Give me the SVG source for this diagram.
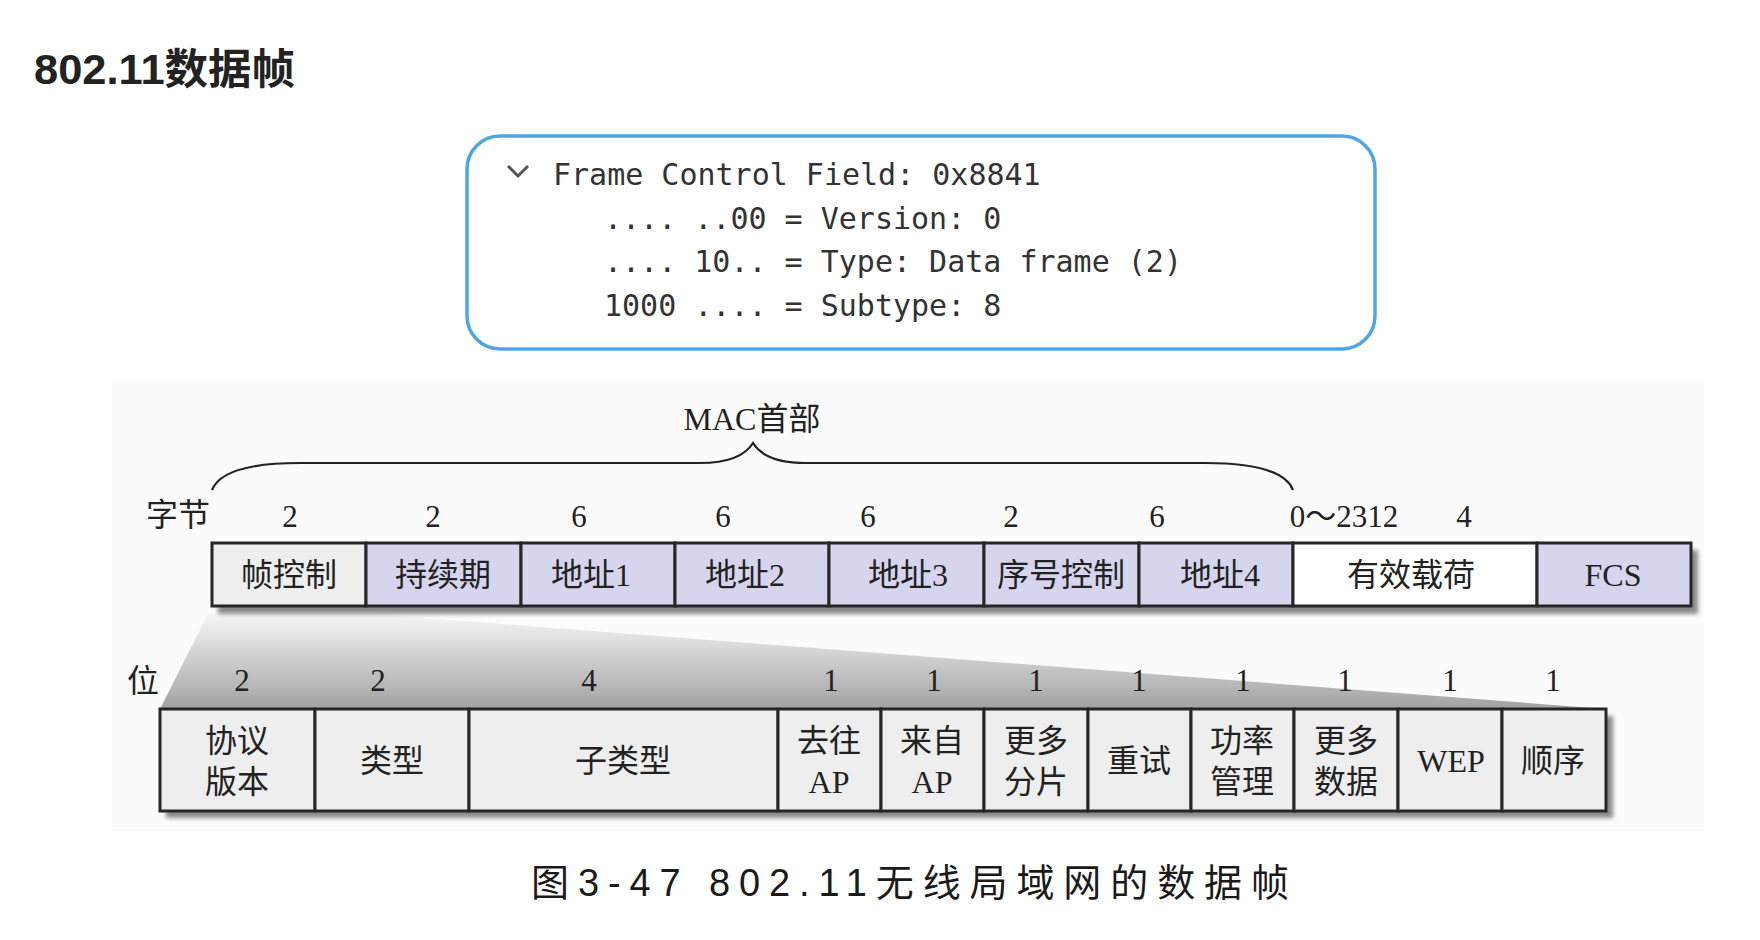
<svg xmlns="http://www.w3.org/2000/svg" width="1760" height="940" viewBox="0 0 1760 940">
  <defs>
    <style>
      .title{font-family:'Liberation Sans','Noto Sans CJK SC',sans-serif;font-weight:bold;font-size:42px;fill:#222;}
      .mono{font-family:'DejaVu Sans Mono','Liberation Mono',monospace;font-size:30px;fill:#333;}
      .lbl{font-family:'Liberation Serif','Noto Sans CJK SC',serif;font-size:32px;fill:#222;}
      .num{font-family:'Liberation Serif','Noto Sans CJK SC',serif;font-size:31px;fill:#222;}
      .cap{font-family:'Liberation Sans','Noto Sans CJK SC',sans-serif;font-size:38px;fill:#1a1a1a;}
      .box{stroke:#262626;stroke-width:3;}
      .lav{fill:#d7d5ed;}
      .gry{fill:#eeeeee;}
      .wht{fill:#ffffff;}
      .shadow{fill:#8a8a8a;filter:url(#blur);}
    </style>
    <filter id="blur" x="-5%" y="-20%" width="110%" height="140%">
      <feGaussianBlur stdDeviation="2"/>
    </filter>
    <linearGradient id="wedgeGrad" gradientUnits="userSpaceOnUse" x1="0" y1="614" x2="0" y2="709">
      <stop offset="0" stop-color="#f6f6f6"/>
      <stop offset="1" stop-color="#a2a2a2"/>
    </linearGradient>
  </defs>

  <rect width="1760" height="940" fill="#ffffff"/>

  <g id="title">
    <text class="title" x="34" y="84" textLength="261" lengthAdjust="spacingAndGlyphs">802.11数据帧</text>
  </g>

  <g id="fcf-box">
    <rect x="467" y="136" width="908" height="213" rx="33" ry="33" fill="#ffffff" stroke="#4fa6e3" stroke-width="3.5"/>
    <polyline points="508,166 518,176 528,166" fill="none" stroke="#555" stroke-width="3"/>
    <text class="mono" x="553" y="185">Frame Control Field: 0x8841</text>
    <text class="mono" x="604" y="229">.... ..00 = Version: 0</text>
    <text class="mono" x="604" y="272">.... 10.. = Type: Data frame (2)</text>
    <text class="mono" x="604" y="316">1000 .... = Subtype: 8</text>
  </g>

  <rect id="figure-bg" x="112" y="381" width="1592" height="450" fill="#fbfbfb"/>

  <g id="connectors">
    <path id="mac-brace" d="M212,490 C220,470 255,463 300,463 L700,463 C728,463 745,456 753,443 C761,456 778,463 806,463 L1205,463 C1250,463 1285,470 1293,490" fill="none" stroke="#222" stroke-width="2.2"/>
    <polygon id="expand-wedge" points="208,614 372,614 1606,709 160,709" fill="url(#wedgeGrad)"/>
  </g>

  <g id="mac-label">
    <text class="lbl" x="752" y="419" text-anchor="middle" dominant-baseline="central">MAC首部</text>
  </g>

  <g id="byte-numbers">
    <text class="lbl" x="178" y="515" text-anchor="middle" dominant-baseline="central">字节</text>
    <text class="num" x="290" y="516" text-anchor="middle" dominant-baseline="central">2</text>
    <text class="num" x="433" y="516" text-anchor="middle" dominant-baseline="central">2</text>
    <text class="num" x="579" y="516" text-anchor="middle" dominant-baseline="central">6</text>
    <text class="num" x="723" y="516" text-anchor="middle" dominant-baseline="central">6</text>
    <text class="num" x="868" y="516" text-anchor="middle" dominant-baseline="central">6</text>
    <text class="num" x="1011" y="516" text-anchor="middle" dominant-baseline="central">2</text>
    <text class="num" x="1157" y="516" text-anchor="middle" dominant-baseline="central">6</text>
    <text class="num" x="1344" y="516" text-anchor="middle" dominant-baseline="central">0～2312</text>
    <text class="num" x="1464" y="516" text-anchor="middle" dominant-baseline="central">4</text>
  </g>

  <rect class="shadow" x="218" y="550" width="1480" height="64"/>
  <g id="frame-fields">
    <g id="f-framectl"><rect class="box gry" x="212" y="543" width="154" height="63"/><text class="lbl" x="289" y="575" text-anchor="middle" dominant-baseline="central">帧控制</text></g>
    <g id="f-duration"><rect class="box lav" x="366" y="543" width="155" height="63"/><text class="lbl" x="443" y="575" text-anchor="middle" dominant-baseline="central">持续期</text></g>
    <g id="f-addr1"><rect class="box lav" x="521" y="543" width="154" height="63"/><text class="lbl" x="591" y="575" text-anchor="middle" dominant-baseline="central">地址1</text></g>
    <g id="f-addr2"><rect class="box lav" x="675" y="543" width="154" height="63"/><text class="lbl" x="745" y="575" text-anchor="middle" dominant-baseline="central">地址2</text></g>
    <g id="f-addr3"><rect class="box lav" x="829" y="543" width="155" height="63"/><text class="lbl" x="908" y="575" text-anchor="middle" dominant-baseline="central">地址3</text></g>
    <g id="f-seqctl"><rect class="box lav" x="984" y="543" width="155" height="63"/><text class="lbl" x="1061" y="575" text-anchor="middle" dominant-baseline="central">序号控制</text></g>
    <g id="f-addr4"><rect class="box lav" x="1139" y="543" width="154" height="63"/><text class="lbl" x="1220" y="575" text-anchor="middle" dominant-baseline="central">地址4</text></g>
    <g id="f-payload"><rect class="box wht" x="1293" y="543" width="244" height="63"/><text class="lbl" x="1411" y="575" text-anchor="middle" dominant-baseline="central">有效载荷</text></g>
    <g id="f-fcs"><rect class="box lav" x="1537" y="543" width="154" height="63"/><text class="lbl" x="1613" y="575" text-anchor="middle" dominant-baseline="central">FCS</text></g>
  </g>

  <g id="bit-numbers">
    <text class="lbl" x="143" y="681" text-anchor="middle" dominant-baseline="central">位</text>
    <text class="num" x="242" y="680" text-anchor="middle" dominant-baseline="central">2</text>
    <text class="num" x="378" y="680" text-anchor="middle" dominant-baseline="central">2</text>
    <text class="num" x="589" y="680" text-anchor="middle" dominant-baseline="central">4</text>
    <text class="num" x="831" y="680" text-anchor="middle" dominant-baseline="central">1</text>
    <text class="num" x="934" y="680" text-anchor="middle" dominant-baseline="central">1</text>
    <text class="num" x="1036" y="680" text-anchor="middle" dominant-baseline="central">1</text>
    <text class="num" x="1139" y="680" text-anchor="middle" dominant-baseline="central">1</text>
    <text class="num" x="1243" y="680" text-anchor="middle" dominant-baseline="central">1</text>
    <text class="num" x="1345" y="680" text-anchor="middle" dominant-baseline="central">1</text>
    <text class="num" x="1450" y="680" text-anchor="middle" dominant-baseline="central">1</text>
    <text class="num" x="1553" y="680" text-anchor="middle" dominant-baseline="central">1</text>
  </g>

  <rect class="shadow" x="166" y="716" width="1447" height="102"/>
  <g id="control-bits">
    <g id="b-version"><rect class="box gry" x="160" y="709" width="155" height="102"/><text class="lbl" x="237" y="741" text-anchor="middle" dominant-baseline="central">协议</text><text class="lbl" x="237" y="782" text-anchor="middle" dominant-baseline="central">版本</text></g>
    <g id="b-type"><rect class="box gry" x="315" y="709" width="154" height="102"/><text class="lbl" x="392" y="761" text-anchor="middle" dominant-baseline="central">类型</text></g>
    <g id="b-subtype"><rect class="box gry" x="469" y="709" width="309" height="102"/><text class="lbl" x="623" y="761" text-anchor="middle" dominant-baseline="central">子类型</text></g>
    <g id="b-tods"><rect class="box gry" x="778" y="709" width="103" height="102"/><text class="lbl" x="829" y="741" text-anchor="middle" dominant-baseline="central">去往</text><text class="lbl" x="829" y="782" text-anchor="middle" dominant-baseline="central">AP</text></g>
    <g id="b-fromds"><rect class="box gry" x="881" y="709" width="103" height="102"/><text class="lbl" x="932" y="741" text-anchor="middle" dominant-baseline="central">来自</text><text class="lbl" x="932" y="782" text-anchor="middle" dominant-baseline="central">AP</text></g>
    <g id="b-morefrag"><rect class="box gry" x="984" y="709" width="104" height="102"/><text class="lbl" x="1036" y="741" text-anchor="middle" dominant-baseline="central">更多</text><text class="lbl" x="1036" y="782" text-anchor="middle" dominant-baseline="central">分片</text></g>
    <g id="b-retry"><rect class="box gry" x="1088" y="709" width="103" height="102"/><text class="lbl" x="1139" y="761" text-anchor="middle" dominant-baseline="central">重试</text></g>
    <g id="b-pwrmgt"><rect class="box gry" x="1191" y="709" width="103" height="102"/><text class="lbl" x="1242" y="741" text-anchor="middle" dominant-baseline="central">功率</text><text class="lbl" x="1242" y="782" text-anchor="middle" dominant-baseline="central">管理</text></g>
    <g id="b-moredata"><rect class="box gry" x="1294" y="709" width="104" height="102"/><text class="lbl" x="1346" y="741" text-anchor="middle" dominant-baseline="central">更多</text><text class="lbl" x="1346" y="782" text-anchor="middle" dominant-baseline="central">数据</text></g>
    <g id="b-wep"><rect class="box gry" x="1398" y="709" width="104" height="102"/><text class="lbl" x="1451" y="761" text-anchor="middle" dominant-baseline="central">WEP</text></g>
    <g id="b-order"><rect class="box gry" x="1502" y="709" width="104" height="102"/><text class="lbl" x="1553" y="761" text-anchor="middle" dominant-baseline="central">顺序</text></g>
  </g>

  <g id="caption">
    <text class="cap" x="531" y="896" textLength="758" lengthAdjust="spacing">图3-47 802.11无线局域网的数据帧</text>
  </g>
</svg>
